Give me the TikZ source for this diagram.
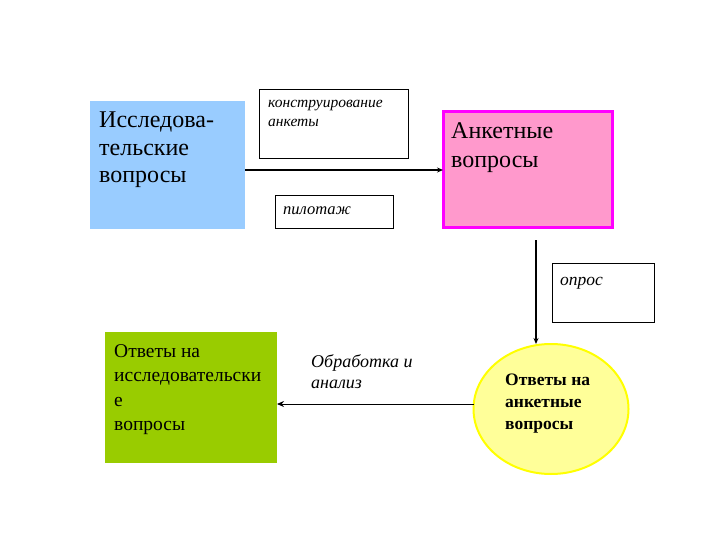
\documentclass[tikz,border=0pt]{standalone}
\usepackage{fontspec}
\setmainfont{Liberation Serif}
\usetikzlibrary{arrows.meta,shapes.geometric}
\definecolor{boxblue}{HTML}{99CCFF}
\definecolor{boxpink}{HTML}{FF99CC}
\definecolor{boxmagenta}{HTML}{FF00FF}
\definecolor{boxgreen}{HTML}{99CC00}
\definecolor{ellfill}{HTML}{FFFF99}
\definecolor{ellline}{HTML}{FFFF00}
\tikzset{
  x=1pt, y=-1pt,
  area/.style={rectangle, anchor=north west, inner sep=0pt, outer sep=0pt},
  labelbox/.style={rectangle, draw=black, line width=0.8pt, fill=white, anchor=north west, inner sep=0pt},
  txt/.style={anchor=north west, inner sep=0pt, align=left},
  conn/.style={draw=black, line width=1.4pt, -{Stealth[length=6pt,width=5pt]}},
}
\begin{document}
\begin{tikzpicture}
\useasboundingbox (0,0) rectangle (720,540);
% boxes
\node[area, fill=boxblue, minimum width=155pt, minimum height=128pt] (blue) at (90,101) {};
\node[area, fill=boxpink, draw=boxmagenta, line width=3pt, minimum width=169pt, minimum height=116pt] (pink) at (443,112) {};
\node[area, fill=boxgreen, minimum width=172pt, minimum height=131pt] (green) at (105,332) {};
\node[ellipse, draw=ellline, fill=ellfill, line width=2pt, minimum width=155pt, minimum height=130pt, inner sep=0pt] (ell) at (551,409) {};
\node[labelbox, minimum width=149pt, minimum height=69pt] (konstr) at (259,89) {};
\node[labelbox, minimum width=118pt, minimum height=33pt] (pilot) at (275,195) {};
\node[labelbox, minimum width=102pt, minimum height=59pt] (opros) at (552,263) {};
% texts
\node[txt, font=\fontsize{24}{27.5}\selectfont] (tblue) at (99,112) {Исследова-\\тельские\\вопросы};
\node[txt, font=\fontsize{24}{29}\selectfont] (tpink) at (451,122) {Анкетные\\вопросы};
\node[txt, font=\fontsize{19.5}{24.5}\selectfont] (tgreen) at (114,344) {Ответы на\\исследовательски\\е\\вопросы};
\node[txt, font=\bfseries\fontsize{17.5}{22}\selectfont] (tell) at (505,374) {Ответы на\\анкетные\\вопросы};
\node[txt, font=\itshape\fontsize{15.5}{19}\selectfont] (tkonstr) at (268,100) {конструирование\\анкеты};
\node[txt, font=\itshape\fontsize{16.5}{20}\selectfont] (tpilot) at (283,207) {пилотаж};
\node[txt, font=\itshape\fontsize{17.5}{20}\selectfont] (topros) at (560,277) {опрос};
\node[txt, font=\itshape\fontsize{18}{21}\selectfont] (tobr) at (311,354) {Обработка и\\анализ};
% connectors
\coordinate (vstart) at (536,240);
\coordinate (vend) at (536,344);
\coordinate (hstart) at (474,404);
\coordinate (hend) at (277,404);
\draw[conn] (blue.east |- pink.west) -- (pink.west);
\draw[conn] (vstart) -- (vend);
\draw[draw=black, line width=0.8pt, -{Stealth[length=7pt,width=6pt]}] (hstart) -- (hend);
\end{tikzpicture}
\end{document}
